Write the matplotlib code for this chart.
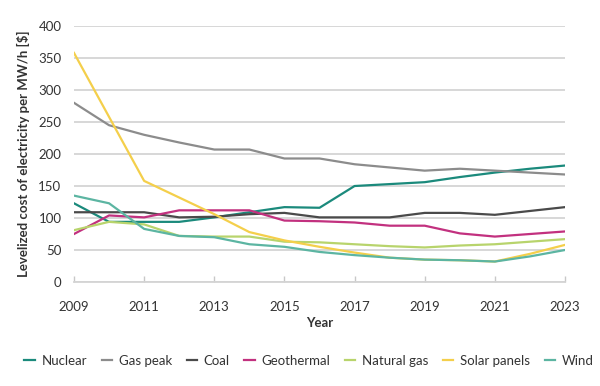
import matplotlib
matplotlib.use("Agg")
import matplotlib.pyplot as plt

plt.rcParams['font.family'] = ['Lato', 'DejaVu Sans']

years = list(range(2009, 2024))
nuclear = [123, 94, 94, 94, 101, 109, 117, 116, 150, 153, 156, 164, 171, 177, 182]
gas_peak = [280, 245, 230, 218, 207, 207, 193, 193, 184, 179, 174, 177, 174, 171, 168]
coal = [109, 109, 109, 101, 102, 106, 108, 101, 101, 101, 108, 108, 105, 111, 117]
geothermal = [75, 104, 101, 112, 112, 112, 96, 95, 93, 88, 88, 76, 71, 75, 79]
natural_gas = [81, 94, 90, 72, 71, 71, 63, 62, 59, 56, 54, 57, 59, 63, 67]
solar = [358, 258, 158, 132, 106, 78, 65, 55, 46, 38, 35, 34, 32, 44, 58]
wind = [135, 123, 83, 72, 70, 59, 55, 47, 42, 38, 35, 34, 32, 40, 50]

series = [
    ("Nuclear", nuclear, "#1b8a7c"),
    ("Gas peak", gas_peak, "#8c8c8c"),
    ("Coal", coal, "#4a4a4a"),
    ("Geothermal", geothermal, "#c2317f"),
    ("Natural gas", natural_gas, "#b8d46c"),
    ("Solar panels", solar, "#f4cf4b"),
    ("Wind", wind, "#5cb5a2"),
]

fig = plt.figure(figsize=(6, 3.86), dpi=100)
ax = fig.add_axes([0.1233, 0.2694, 0.8184, 0.6632])

for name, vals, col in series:
    ax.plot(years, vals, color=col, lw=1.6, label=name, solid_joinstyle='round')

ax.set_xlim(2009, 2023)
ax.set_ylim(0, 400)
ax.set_yticks(range(0, 401, 50))
ax.set_xticks(range(2009, 2024, 2))
ax.yaxis.grid(True, color="#d4d4d4", lw=1.3)
ax.set_axisbelow(True)
for s in ["top", "right", "left"]:
    ax.spines[s].set_visible(False)
ax.spines["bottom"].set_color("#d4d4d4")
ax.spines["bottom"].set_linewidth(1.3)
ax.tick_params(axis="y", length=0, pad=9, labelsize=9.5, labelcolor="#333333")
ax.tick_params(axis="x", direction="in", length=4, width=1, color="#c8c8c8",
               pad=13.5, labelsize=9.5, labelcolor="#333333")

ax.set_xlabel("Year", fontsize=9.5, fontweight="bold", color="#333333", labelpad=3)
ax.set_ylabel("Levelized cost of electricity per MW/h [$]", fontsize=9.5,
              fontweight="bold", color="#333333", labelpad=6)

fig.legend(loc="center", bbox_to_anchor=(0.515, 0.065), ncol=7, frameon=False,
           fontsize=9.5, handlelength=0.8, handletextpad=0.5, columnspacing=1.1,
           labelcolor="#333333")

fig.savefig("out.png", dpi=100)
